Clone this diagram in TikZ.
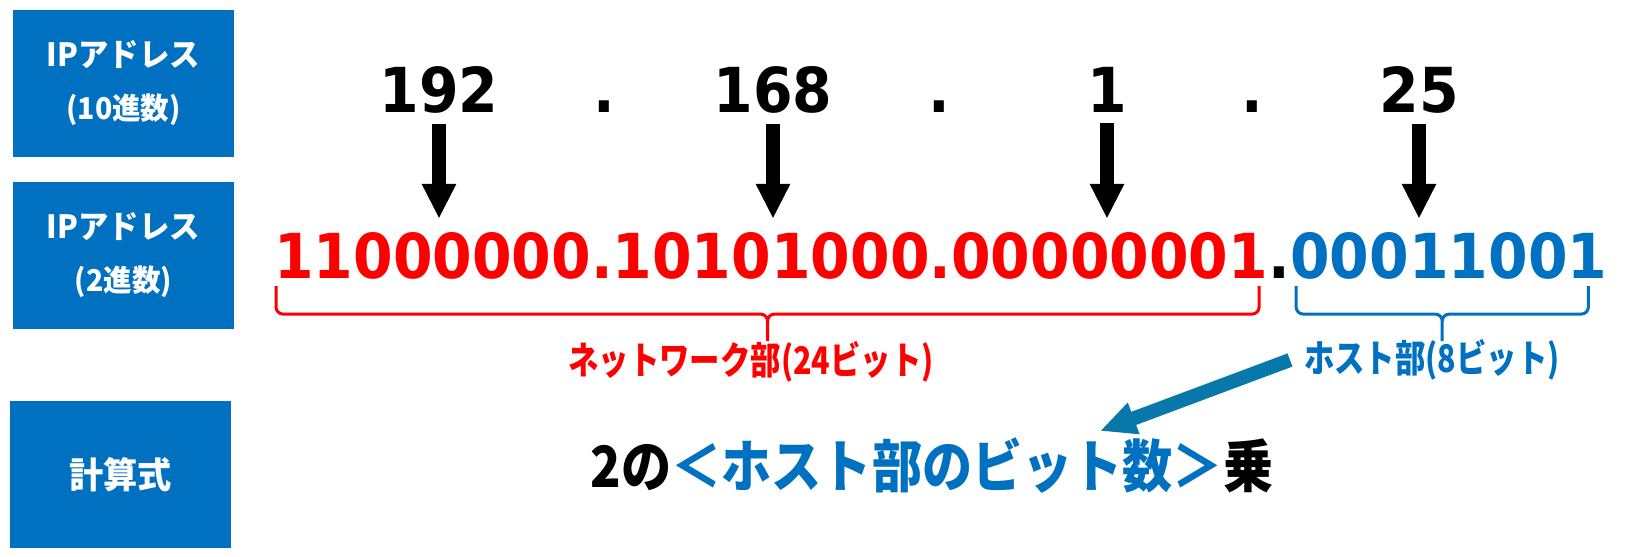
\documentclass[tikz,border=0pt]{standalone}
\usepackage{fontspec}
\usepackage{tikz}
\usetikzlibrary{arrows.meta, calc}

\newfontfamily\numfont{DejaVu Sans}[FakeStretch=0.918]
\newfontfamily\boxfont{Noto Sans CJK JP}[FakeStretch=0.95]
\newfontfamily\lblfont{Noto Sans CJK JP}[FakeStretch=0.8]
\newfontfamily\calcfont{Noto Sans CJK JP}[FakeStretch=0.88]

\definecolor{boxblue}{HTML}{0070C0}
\definecolor{hostblue}{HTML}{0070C0}
\definecolor{netred}{HTML}{FF0000}
\definecolor{arrowteal}{RGB}{8,120,170}

\begin{document}
\begin{tikzpicture}[x=1pt, y=-1pt,
  labelbox/.style={fill=boxblue, text=white, minimum width=221pt, minimum height=147pt,
    align=center, inner sep=0pt, font=\boxfont\bfseries\fontsize{32}{53}\selectfont},
  decnum/.style={anchor=base, inner sep=0pt, font=\numfont\bfseries\fontsize{62}{62}\selectfont},
  bits/.style={anchor=base west, inner sep=0pt, font=\numfont\bfseries\fontsize{62}{62}\selectfont},
  downarrow/.style={-{Triangle[length=35pt,width=32pt]}, line width=14pt,
    shorten <=11pt, shorten >=13pt},
  partbrace/.style={line width=3pt, rounded corners=7pt},
  partlabel/.style={inner sep=0pt, font=\lblfont\bfseries\fontsize{38}{38}\selectfont},
  hostarrow/.style={-{Triangle[length=36pt,width=31pt]}, line width=14pt, draw=arrowteal}]

  \useasboundingbox (0,0) rectangle (1634,557);

  % row titles
  \node[labelbox] (decbox) at (123.5,83.5) {IPアドレス\\{\fontsize{30}{53}\selectfont(10進数)}};
  \node[labelbox] (binbox) at (123.5,255.5) {IPアドレス\\{\fontsize{30}{53}\selectfont(2進数)}};
  \node[labelbox, font=\boxfont\bfseries\fontsize{36}{36}\selectfont] (calcbox) at (120.5,474.5) {計算式};

  % decimal address
  \node[decnum] (d192) at (439,112) {192};
  \node[decnum] (p1) at (604,112) {.};
  \node[decnum] (d168) at (773,112) {168};
  \node[decnum] (p2) at (939,112) {.};
  \node[decnum] (d1) at (1107,112) {1};
  \node[decnum] (p3) at (1252,112) {.};
  \node[decnum] (d25) at (1419,112) {25};

  % binary address
  \node[bits, text=netred] (netbits) at (274,278) {11000000.10101000.00000001};
  \node[bits] (sepdot) at (netbits.base east) {.};
  \node[bits, text=hostblue] (hostbits) at (sepdot.base east) {00011001};

  \foreach \n in {d192,d168,d1,d25}
    \draw[downarrow] (\n.south) -- (\n.south |- netbits.north);

  % braces
  \coordinate (netL) at ($(netbits.south west)+(2,7)$);
  \coordinate (netR) at ($(netbits.south east)+(-9,7)$);
  \coordinate (hostL) at ($(hostbits.south west)+(6,7)$);
  \coordinate (hostR) at ($(hostbits.south east)+(-19,7)$);

  \draw[partbrace, netred] (netL) |- ($(netL)!0.5!(netR)+(0,28)$) -- ++(0,27) coordinate (nettip)
    (nettip) -- ++(0,-27) -| (netR);
  \draw[partbrace, hostblue] (hostL) |- ($(hostL)!0.5!(hostR)+(0,28)$) -- ++(0,27) coordinate (hosttip)
    (hosttip) -- ++(0,-27) -| (hostR);

  \node[partlabel, text=netred] (netlbl) at (751,362) {ネットワーク部(24ビット)};
  \node[partlabel, text=hostblue, inner xsep=14pt] (hostlbl) at (1432,360) {ホスト部(8ビット)};

  % formula
  \node[inner sep=0pt, font=\calcfont\bfseries\fontsize{57}{57}\selectfont] (formula) at (932,466)
    {2の\textcolor{hostblue}{＜ホスト部のビット数＞}乗};

  \coordinate (hostpt) at (1100,431);
  \draw[hostarrow] (hostlbl.west) -- (hostpt);
\end{tikzpicture}
\end{document}
